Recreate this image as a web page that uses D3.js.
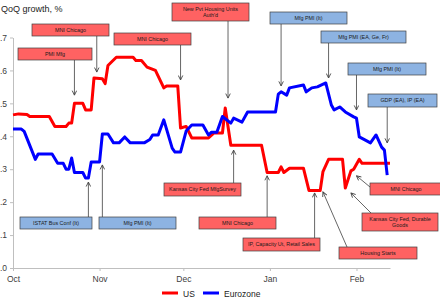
<!DOCTYPE html>
<html lang="en">
  <head>
    <meta charset="utf-8">
    <title>QoQ growth</title>
    <script src="https://d3js.org/d3.v7.min.js"></script>
    <style>
      body { margin: 0; background: #fff; }
      svg { font-family: "Liberation Sans", Arial, sans-serif; }
      .axis path, .axis line { stroke: #bfbfbf; }
      .axis text { fill: #404040; font-size: 8.5px; }
      .note text { font-size: 5.4px; fill: #1a1a1a; }
    </style>
  </head>
  <body>
    <div id="main"></div>
    <script>
      // Data
      const usPoints = [
        ['2013-10-01', 0.465], ['2013-10-03', 0.468], ['2013-10-06', 0.466], ['2013-10-07', 0.46],
        ['2013-10-14', 0.46], ['2013-10-16', 0.43], ['2013-10-20', 0.43], ['2013-10-21', 0.44],
        ['2013-10-22', 0.44], ['2013-10-23', 0.50], ['2013-10-26', 0.50], ['2013-10-27', 0.48],
        ['2013-10-29', 0.48], ['2013-10-30', 0.577], ['2013-11-02', 0.575], ['2013-11-03', 0.56],
        ['2013-11-04', 0.615], ['2013-11-07', 0.64], ['2013-11-13', 0.64], ['2013-11-14', 0.63],
        ['2013-11-16', 0.63], ['2013-11-18', 0.61], ['2013-11-21', 0.60], ['2013-11-24', 0.547],
        ['2013-11-25', 0.553], ['2013-11-29', 0.553], ['2013-11-30', 0.425], ['2013-12-02', 0.43],
        ['2013-12-04', 0.395], ['2013-12-10', 0.395], ['2013-12-12', 0.41], ['2013-12-15', 0.41],
        ['2013-12-16', 0.486], ['2013-12-18', 0.373], ['2013-12-29', 0.373], ['2013-12-31', 0.29],
        ['2014-01-04', 0.29], ['2014-01-05', 0.307], ['2014-01-06', 0.29], ['2014-01-08', 0.303],
        ['2014-01-13', 0.303], ['2014-01-15', 0.235], ['2014-01-19', 0.235], ['2014-01-20', 0.293],
        ['2014-01-22', 0.33], ['2014-01-27', 0.33], ['2014-01-28', 0.243], ['2014-01-30', 0.295],
        ['2014-01-31', 0.30], ['2014-02-02', 0.33], ['2014-02-03', 0.318], ['2014-02-13', 0.318]
      ];
      const ezPoints = [
        ['2013-10-01', 0.422], ['2013-10-04', 0.422], ['2013-10-05', 0.415], ['2013-10-09', 0.33],
        ['2013-10-10', 0.346], ['2013-10-15', 0.346], ['2013-10-17', 0.318], ['2013-10-19', 0.318],
        ['2013-10-20', 0.30], ['2013-10-21', 0.30], ['2013-10-22', 0.334], ['2013-10-23', 0.29],
        ['2013-10-26', 0.29], ['2013-10-27', 0.273], ['2013-10-28', 0.273], ['2013-10-29', 0.322],
        ['2013-11-01', 0.322], ['2013-11-02', 0.407], ['2013-11-04', 0.407], ['2013-11-06', 0.38],
        ['2013-11-08', 0.38], ['2013-11-10', 0.398], ['2013-11-12', 0.38], ['2013-11-17', 0.38],
        ['2013-11-19', 0.39], ['2013-11-20', 0.404], ['2013-11-22', 0.404], ['2013-11-24', 0.45],
        ['2013-11-27', 0.364], ['2013-11-28', 0.352], ['2013-11-30', 0.352], ['2013-12-02', 0.416],
        ['2013-12-04', 0.434], ['2013-12-08', 0.434], ['2013-12-10', 0.404], ['2013-12-11', 0.412],
        ['2013-12-13', 0.412], ['2013-12-15', 0.46], ['2013-12-18', 0.44], ['2013-12-19', 0.455],
        ['2013-12-22', 0.443], ['2013-12-24', 0.474], ['2014-01-03', 0.474], ['2014-01-04', 0.528],
        ['2014-01-05', 0.535], ['2014-01-07', 0.525], ['2014-01-08', 0.547], ['2014-01-13', 0.556],
        ['2014-01-14', 0.535], ['2014-01-16', 0.547], ['2014-01-18', 0.55], ['2014-01-21', 0.562],
        ['2014-01-23', 0.495], ['2014-01-24', 0.48], ['2014-01-26', 0.489], ['2014-01-28', 0.474],
        ['2014-01-31', 0.459], ['2014-02-01', 0.455], ['2014-02-02', 0.398], ['2014-02-04', 0.389],
        ['2014-02-06', 0.38], ['2014-02-08', 0.404], ['2014-02-10', 0.367], ['2014-02-11', 0.358],
        ['2014-02-12', 0.282]
      ];
      const yTicks = [0, 0.1, 0.2, 0.3, 0.4, 0.5, 0.6, 0.7];
      const monthTicks = ['2013-10-01', '2013-11-01', '2013-12-01', '2014-01-01', '2014-02-01'];
      const monthLabels = ['Oct', 'Nov', 'Dec', 'Jan', 'Feb'];
      const seriesNames = ['US', 'Eurozone'];

      // release notes: text, date pointed at, value pointed at, region
      const notes = [
        ['MNI Chicago', '2013-10-31', 0.595, 'us'],
        ['PMI Mfg', '2013-10-23', 0.525, 'us'],
        ['MNI Chicago', '2013-11-30', 0.571, 'us'],
        ['New Pvt Housing Units|Auth\'d', '2013-12-17', 0.516, 'us'],
        ['Mfg PMI (It)', '2014-01-05', 0.553, 'ez'],
        ['Mfg PMI (EA, Ge, Fr)', '2014-01-22', 0.577, 'ez'],
        ['Mfg PMI (It)', '2014-02-01', 0.48, 'ez'],
        ['GDP (EA), IP (EA)', '2014-02-12', 0.38, 'ez'],
        ['MNI Chicago', '2014-02-01', 0.28, 'us'],
        ['Kansas City Fed, Durable|Goods', '2014-01-30', 0.228, 'us'],
        ['Housing Starts', '2014-01-20', 0.231, 'us'],
        ['IP, Capacity Ut, Retail Sales', '2014-01-17', 0.228, 'us'],
        ['MNI Chicago', '2013-12-31', 0.28, 'us'],
        ['Kansas City Fed MfgSurvey', '2013-12-19', 0.358, 'us'],
        ['ISTAT Bus Conf (It)', '2013-10-28', 0.261, 'ez'],
        ['Mfg PMI (It)', '2013-11-02', 0.313, 'ez']
      ];

      // Layout of the note boxes (pixels), same order as notes
      const noteBoxes = [
        {x: 32, y: 24, w: 77, h: 12},
        {x: 18, y: 48, w: 74, h: 12},
        {x: 114, y: 33, w: 77, h: 12},
        {x: 172, y: 3, w: 77, h: 18},
        {x: 270, y: 12, w: 77, h: 12},
        {x: 321, y: 31, w: 85, h: 12},
        {x: 348, y: 63, w: 78, h: 12},
        {x: 368, y: 94, w: 69, h: 13},
        {x: 370, y: 183, w: 72, h: 12, from: [370, 187]},
        {x: 362, y: 213, w: 76, h: 18, from: [371, 213]},
        {x: 339, y: 247, w: 78, h: 12, from: [347, 247]},
        {x: 243, y: 238, w: 77, h: 13},
        {x: 199, y: 217, w: 77, h: 12},
        {x: 164, y: 183, w: 77, h: 13},
        {x: 20, y: 217, w: 72, h: 12},
        {x: 99, y: 217, w: 77, h: 12}
      ];

      const parse = d3.timeParse('%Y-%m-%d');
      const width = 440, height = 300;

      const svg = d3.select('#main').append('svg')
        .attr('width', width)
        .attr('height', height);

      const x = d3.scaleTime()
        .domain([parse('2013-10-01'), parse('2014-02-13')])
        .range([13, 390]);
      const y = d3.scaleLinear()
        .domain([0, 0.7])
        .range([268, 37.5]);

      const colors = {us: '#ff0000', ez: '#0000ff'};
      const fills = {us: '#ff6262', ez: '#8db3e2'};

      // title
      svg.append('text')
        .attr('x', 1)
        .attr('y', 12)
        .attr('font-size', 9)
        .attr('fill', '#222')
        .text('QoQ growth, %');

      // axes
      const fmt = d3.format('.1f');
      svg.append('g')
        .attr('class', 'axis')
        .attr('transform', 'translate(13,0)')
        .call(d3.axisLeft(y)
          .tickValues(yTicks)
          .tickFormat(d => fmt(d).replace(/^0/, ''))
          .tickSize(3).tickSizeOuter(0).tickPadding(3));

      svg.append('g')
        .attr('class', 'axis')
        .attr('transform', 'translate(0,268)')
        .call(d3.axisBottom(x)
          .tickValues(monthTicks.map(parse))
          .tickFormat((d, i) => monthLabels[i])
          .tickSize(3).tickSizeOuter(0).tickPadding(5));

      // series
      const line = d3.line()
        .x(d => x(parse(d[0])))
        .y(d => y(d[1]));

      [[usPoints, 'us'], [ezPoints, 'ez']].forEach(([pts, key]) => {
        svg.append('path')
          .datum(pts)
          .attr('fill', 'none')
          .attr('stroke', colors[key])
          .attr('stroke-width', 3)
          .attr('stroke-linejoin', 'round')
          .attr('d', line);
      });

      // arrow marker
      svg.append('defs').append('marker')
        .attr('id', 'arrow')
        .attr('viewBox', '0 0 8 8')
        .attr('refX', 7).attr('refY', 4)
        .attr('markerWidth', 6).attr('markerHeight', 6)
        .attr('markerUnits', 'userSpaceOnUse')
        .attr('orient', 'auto')
        .append('path')
          .attr('d', 'M1,1 L7,4 L1,7')
          .attr('fill', 'none')
          .attr('stroke', '#444')
          .attr('stroke-width', 1.2);

      const noteG = svg.append('g').attr('class', 'note');

      notes.forEach((n, i) => {
        const b = noteBoxes[i];
        const tx = x(parse(n[1])), ty = y(n[2]);
        let sx, sy;
        if (b.from) {
          [sx, sy] = b.from;
        } else {
          sx = tx;
          sy = ty < b.y ? b.y : b.y + b.h;
        }
        noteG.append('line')
          .attr('x1', sx).attr('y1', sy)
          .attr('x2', tx).attr('y2', ty)
          .attr('stroke', '#555')
          .attr('stroke-width', 0.9)
          .attr('marker-end', 'url(#arrow)');
      });

      notes.forEach((n, i) => {
        const b = noteBoxes[i];
        const g = noteG.append('g');
        g.append('rect')
          .attr('x', b.x).attr('y', b.y)
          .attr('width', b.w).attr('height', b.h)
          .attr('fill', fills[n[3]])
          .attr('stroke', '#404040')
          .attr('stroke-width', 0.7);
        const parts = n[0].split('|');
        parts.forEach((t, j) => {
          g.append('text')
            .attr('x', b.x + b.w / 2)
            .attr('y', b.y + b.h / 2 + (j - (parts.length - 1) / 2) * 6.2)
            .attr('dy', '0.35em')
            .attr('text-anchor', 'middle')
            .text(t);
        });
      });

      // legend
      const legend = svg.append('g');
      seriesNames.forEach((name, i) => {
        const lx = 162 + i * 41;
        legend.append('line')
          .attr('x1', lx).attr('x2', lx + 16)
          .attr('y1', 293).attr('y2', 293)
          .attr('stroke', colors[i === 0 ? 'us' : 'ez'])
          .attr('stroke-width', 3);
        legend.append('text')
          .attr('x', lx + 21)
          .attr('y', 296.5)
          .attr('font-size', 8.5)
          .attr('fill', '#222')
          .text(name);
      });
    </script>
  </body>
</html>
